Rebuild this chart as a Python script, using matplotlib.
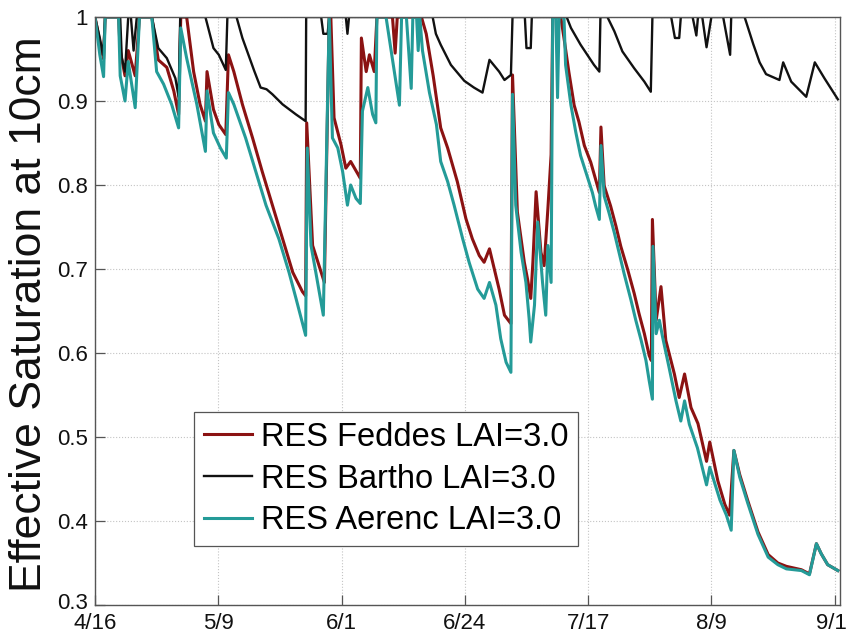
import matplotlib
matplotlib.use("Agg")
import matplotlib.pyplot as plt
import matplotlib.transforms as mtransforms

plt.rcParams['font.family'] = ['Liberation Sans', 'DejaVu Sans']

# Days since 4/16 and effective saturation at 10 cm depth
feddes_days = [0, 0.9, 1.6, 1.9, 4.4, 4.7, 5.6, 6.2, 7.5, 8.3, 10.6, 11.8, 13.4, 14.7, 15.6, 16.0,
               17.1, 18.4, 19.6, 20.6, 20.9, 22.1, 23.1, 24.4, 24.9, 25.9, 27.5, 29.4, 31.2, 33.1,
               35.0, 36.9, 38.7, 39.3, 39.5, 40.6, 41.8, 42.8, 43.7, 44.0, 44.6, 45.9, 46.8, 47.7,
               49.5, 49.7, 50.6, 51.2, 52.1, 52.6, 55.5, 56.0, 56.4, 60.9, 61.8, 63.1, 64.5, 65.8,
               66.7, 67.6, 69.2, 70.4, 71.7, 72.6, 73.6, 74.5, 75.4, 76.4, 77.6, 77.9, 78.8, 80.1,
               80.7, 81.3, 81.7, 82.3, 83.2, 83.8, 84.5, 85.1, 85.4, 86.9, 87.5, 88.4, 89.4, 90.3,
               91.3, 92.5, 93.4, 94.1, 94.4, 95.0, 96.2, 97.2, 98.1, 99.4, 100.6, 101.5, 102.5,
               103.4, 103.8, 104.0, 104.7, 105.6, 106.5, 108.1, 109.0, 110.0, 111.2, 112.5, 114.1,
               114.7, 116.2, 117.5, 118.4, 119.2, 120.3, 121.8, 123.7, 125.6, 127.4, 129.0, 131.8,
               133.3, 134.6, 135.5, 136.7, 138.6]
feddes_se = [1.0, 0.97, 0.95, 1.0, 1.0, 0.96, 0.93, 0.96, 0.93, 1.0, 1.0, 0.949, 0.94, 0.912, 0.884, 1.0,
             1.0, 0.935, 0.896, 0.876, 0.935, 0.89, 0.872, 0.86, 0.955, 0.935, 0.896, 0.856, 0.816, 0.776,
             0.736, 0.696, 0.673, 0.668, 0.874, 0.728, 0.704, 0.684, 1.0, 1.0, 0.88, 0.848, 0.82, 0.828,
             0.808, 0.975, 0.935, 0.955, 0.935, 1.0, 1.0, 0.957, 1.0, 1.0, 0.98, 0.93, 0.868, 0.844,
             0.824, 0.804, 0.76, 0.736, 0.716, 0.708, 0.724, 0.70, 0.676, 0.645, 0.635, 0.931, 0.768, 0.708,
             0.688, 0.665, 0.708, 0.792, 0.72, 0.704, 0.772, 0.836, 1.0, 1.0, 0.975, 0.935, 0.895, 0.875,
             0.847, 0.827, 0.807, 0.791, 0.869, 0.799, 0.775, 0.751, 0.727, 0.699, 0.671, 0.647, 0.623,
             0.597, 0.591, 0.759, 0.639, 0.679, 0.615, 0.575, 0.547, 0.575, 0.535, 0.516, 0.471,
             0.494, 0.448, 0.42, 0.407, 0.484, 0.455, 0.424, 0.387, 0.36, 0.35, 0.346, 0.342,
             0.337, 0.373, 0.361, 0.348, 0.341]

bartho_days = [0, 0.9, 1.5, 1.9, 4.7, 5.0, 5.6, 6.2, 6.7, 7.2, 7.8, 10.6, 11.8, 13.4, 15.0, 15.6, 15.9,
               20.6, 22.1, 23.1, 24.4, 24.7, 26.4, 27.5, 29.7, 30.9, 32.0, 33.1, 35.0, 37.5, 39.3, 39.4,
               42.2, 42.6, 43.4, 43.7, 46.8, 47.1, 47.4, 63.0, 63.6, 64.5, 66.4, 68.9, 70.7, 72.3, 73.6,
               75.4, 76.4, 77.6, 77.9, 80.2, 80.5, 81.3, 81.5, 88.0, 88.8, 90.6, 93.1, 94.1, 94.3, 95.6,
               96.9, 98.4, 100.6, 102.5, 103.7, 104.0, 107.5, 108.2, 109.0, 109.3, 111.5, 112.2, 112.5,
               113.3, 114.1, 115.0, 117.2, 118.5, 118.7, 121.2, 122.8, 124.0, 125.2, 127.7, 128.4,
               129.9, 132.7, 134.3, 136.1, 138.6]
bartho_se = [1.0, 0.975, 0.955, 1.0, 1.0, 0.951, 0.935, 1.0, 1.0, 0.96, 1.0, 1.0, 0.963, 0.951, 0.927, 0.905, 1.0,
             1.0, 0.963, 0.955, 0.937, 1.0, 1.0, 0.975, 0.936, 0.916, 0.914, 0.908, 0.896, 0.884, 0.876, 1.0,
             1.0, 0.98, 0.98, 1.0, 1.0, 0.98, 1.0, 1.0, 0.98, 0.967, 0.943, 0.924, 0.916, 0.91, 0.949,
             0.935, 0.925, 0.931, 1.0, 1.0, 0.963, 0.963, 1.0, 1.0, 0.987, 0.967, 0.943, 0.935, 1.0, 1.0,
             0.983, 0.959, 0.939, 0.923, 0.911, 1.0, 1.0, 0.975, 0.975, 1.0, 1.0, 0.978, 1.0,
             1.0, 0.964, 1.0, 1.0, 0.955, 1.0, 1.0, 0.968, 0.946, 0.932, 0.925, 0.946,
             0.923, 0.905, 0.946, 0.927, 0.902]

aerenc_days = [0, 0.9, 1.6, 1.9, 4.4, 4.7, 5.6, 6.2, 7.5, 8.3, 10.6, 11.5, 12.8, 14.3, 15.6, 16.0, 17.1,
               19.0, 20.6, 20.9, 22.1, 23.4, 24.5, 24.9, 25.9, 28.1, 30.0, 31.9, 34.3, 36.2, 37.5, 39.3,
               39.6, 40.3, 41.2, 42.6, 43.7, 44.3, 45.3, 46.2, 47.1, 47.7, 48.7, 49.5, 49.9, 50.9, 51.8,
               52.4, 52.6, 54.3, 56.8, 57.2, 58.1, 59.0, 59.3, 60.0, 60.3, 60.6, 61.1, 62.4, 63.7, 64.5,
               65.8, 67.0, 68.6, 69.8, 71.4, 72.6, 73.6, 74.8, 75.7, 76.7, 77.6, 77.9, 78.5, 79.5, 80.4,
               81.0, 81.3, 82.0, 82.6, 83.5, 84.1, 84.5, 85.1, 85.4, 86.0, 86.3, 86.6, 87.5, 87.8, 88.8,
               89.7, 90.6, 91.6, 92.8, 93.4, 94.1, 94.4, 95.0, 95.9, 96.9, 97.8, 98.7, 100.0, 100.9,
               101.9, 102.8, 103.4, 104.0, 104.1, 104.7, 105.3, 105.9, 107.1, 108.4, 109.3, 110.0,
               110.9, 112.4, 114.1, 114.7, 116.6, 117.8, 118.7, 119.2, 120.3, 121.8, 123.7, 125.6,
               127.4, 129.0, 131.8, 133.3, 134.6, 135.5, 136.7, 138.6]
aerenc_se = [1.0, 0.955, 0.929, 1.0, 1.0, 0.93, 0.90, 0.947, 0.892, 1.0, 1.0, 0.935, 0.92, 0.896, 0.868, 0.987, 0.951,
             0.896, 0.84, 0.912, 0.862, 0.844, 0.832, 0.91, 0.896, 0.856, 0.816, 0.776, 0.736, 0.696, 0.665, 0.621,
             0.844, 0.728, 0.696, 0.645, 1.0, 0.856, 0.844, 0.816, 0.776, 0.80, 0.784, 0.778, 0.888, 0.916, 0.884,
             0.874, 1.0, 1.0, 0.895, 1.0, 1.0, 0.915, 1.0, 1.0, 0.96, 1.0, 0.96, 0.91, 0.872, 0.828,
             0.804, 0.776, 0.736, 0.708, 0.676, 0.665, 0.684, 0.657, 0.617, 0.589, 0.577, 0.908, 0.776, 0.72, 0.684,
             0.641, 0.613, 0.657, 0.756, 0.684, 0.645, 0.728, 0.684, 1.0, 1.0, 0.904, 1.0, 1.0, 0.943, 0.895,
             0.863, 0.835, 0.815, 0.791, 0.775, 0.759, 0.847, 0.787, 0.767, 0.743, 0.719, 0.695, 0.663, 0.639,
             0.615, 0.591, 0.567, 0.545, 0.727, 0.623, 0.639, 0.619, 0.583, 0.543, 0.519, 0.543,
             0.515, 0.487, 0.443, 0.464, 0.425, 0.407, 0.389, 0.484, 0.452, 0.421, 0.384, 0.357,
             0.348, 0.343, 0.341, 0.336, 0.373, 0.361, 0.348, 0.341]

tick_days = [0, 23, 46, 69, 92, 115, 138]
tick_labels = ['4/16', '5/9', '6/1', '6/24', '7/17', '8/9', '9/1']
y_ticks = [0.3, 0.4, 0.5, 0.6, 0.7, 0.8, 0.9, 1.0]
y_labels = ['0.3', '0.4', '0.5', '0.6', '0.7', '0.8', '0.9', '1']

fig = plt.figure(figsize=(8.48, 6.32), dpi=100)
ax = fig.add_axes([95 / 848, 1 - 605 / 632, 745 / 848, 588 / 632])

ax.plot(feddes_days, feddes_se, color='#8b1212', lw=2.2, label='RES Feddes LAI=3.0')
ax.plot(bartho_days, bartho_se, color='#111111', lw=1.7, label='RES Bartho LAI=3.0')
ax.plot(aerenc_days, aerenc_se, color='#249b98', lw=2.2, label='RES Aerenc LAI=3.0')

ax.set_xlim(0, 139)
ax.set_ylim(0.3, 1.0)
ax.set_xticks(tick_days)
ax.set_xticklabels(tick_labels)
ax.set_yticks(y_ticks)
ax.set_yticklabels(y_labels)
ax.tick_params(axis='both', direction='in', length=7, width=0.9, colors='#555555',
               labelcolor='#111111', labelsize=16)
ax.tick_params(axis='x', pad=5.5)
ax.tick_params(axis='y', pad=5)
ax.grid(True, linestyle=':', color='#c4c4c4', linewidth=0.8)
for sp in ax.spines.values():
    sp.set_color('#555555')
    sp.set_linewidth(1.0)

# keep the lowest y label clear of the first date label, and the last date inside the figure
ylab0 = ax.get_yticklabels()[0]
ylab0.set_transform(ylab0.get_transform() + mtransforms.ScaledTranslation(0, 4 / 100, fig.dpi_scale_trans))
xlab_last = ax.get_xticklabels()[-1]
xlab_last.set_transform(xlab_last.get_transform() + mtransforms.ScaledTranslation(-3 / 100, 0, fig.dpi_scale_trans))

fig.text(30 / 848, 1 - 314 / 632, 'Effective Saturation at 10cm', rotation=90,
         ha='center', va='center', fontsize=32, color='#111111')

leg = ax.legend(loc='lower left', bbox_to_anchor=(0.133, 0.100), fontsize=23.5,
                handlelength=1.47, handletextpad=0.28, labelspacing=0.33,
                borderpad=0.3, borderaxespad=0, fancybox=False, framealpha=1,
                edgecolor='#555555')
leg.get_frame().set_linewidth(0.9)

fig.savefig('out.png', dpi=100)
